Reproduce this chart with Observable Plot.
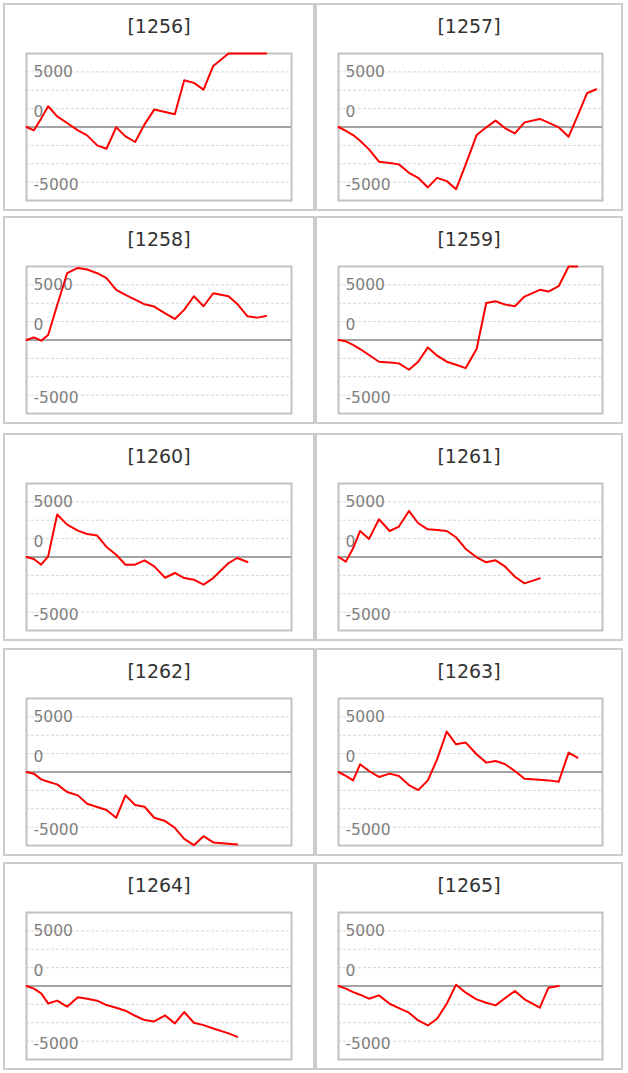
<!DOCTYPE html>
<html>
<head>
<meta charset="utf-8">
<script src="https://cdn.jsdelivr.net/npm/d3@7"></script>
<script src="https://cdn.jsdelivr.net/npm/@observablehq/plot@0.6"></script>
<style>
  html, body { margin: 0; padding: 0; background: #fff; }
  #wrap { position: relative; width: 628px; height: 1073px; }
  .box { position: absolute; box-sizing: border-box; border: 2px solid #cccccc; background: #fff; }
  .ttl { position: absolute; left: 0; right: 0; top: 0; height: 42px; line-height: 42px; text-align: center;
         font-family: "DejaVu Sans", sans-serif; font-size: 19px; color: #333; }
  .box svg { position: absolute; left: 0; top: 40px; }
</style>
</head>
<body>
<div id="wrap"></div>
<script>
// ---- data ----
const codes = ["1256", "1257", "1258", "1259", "1260", "1261", "1262", "1263", "1264", "1265"];
const yTickLabels = [5000, 0, -5000];
// position of each session along the x axis (shared by all panels)
const sessionX = [0, 0.77, 1.53, 2.26, 3.2, 4.24, 5.36, 6.33, 7.38, 8.35, 9.36, 10.33, 11.34, 12.32,
                  13.33, 14.47, 15.48, 16.46, 17.47, 18.48, 19.49, 21.09, 22.0, 23.07, 24.11, 25.02, 26.03, 27.0];

const p1256 = [0, -300, 760, 1880, 970, 360, -300, -760, -1670, -1970, -30, -850, -1360, 240, 1580, 1360, 1150, 4240, 4000, 3390, 5540, 6800, 7300, 7600, 7900, 8200];
const p1257 = [0, -360, -730, -1240, -2030, -3150, -3270, -3390, -4150, -4610, -5480, -4610, -4910, -5640, -3400, -730, -30, 580, -120, -580, 420, 730, 390, -30, -880, 940, 3060, 3420];
const p1258 = [0, 240, -60, 450, 3150, 6060, 6540, 6390, 6060, 5610, 4550, 4090, 3670, 3240, 3030, 2420, 1910, 2730, 3970, 3060, 4240, 3970, 3270, 2150, 2030, 2180];
const p1259 = [0, -120, -450, -820, -1360, -1970, -2030, -2120, -2700, -1970, -670, -1420, -1970, -2240, -2550, -820, 3360, 3510, 3210, 3060, 3940, 4550, 4390, 4880, 6700, 7300];
const p1260 = [0, -180, -700, 60, 3850, 2940, 2390, 2090, 1940, 910, 210, -700, -700, -300, -850, -1880, -1450, -1910, -2060, -2510, -1910, -550, -90, -450];
const p1261 = [0, -420, 790, 2360, 1640, 3420, 2360, 2760, 4180, 3060, 2510, 2450, 2360, 1790, 730, -30, -480, -300, -880, -1790, -2390, -1940];
const p1262 = [0, -150, -670, -880, -1120, -1820, -2120, -2880, -3180, -3450, -4150, -2120, -3000, -3150, -4150, -4450, -5060, -6060, -6640, -5820, -6390, -6510, -6570];
const p1263 = [0, -360, -760, 700, 90, -450, -150, -360, -1180, -1640, -760, 1150, 3670, 2510, 2670, 1610, 850, 1000, 700, 90, -610, -700, -760, -880, 1760, 1300];
const p1264 = [0, -240, -670, -1580, -1330, -1880, -1030, -1150, -1330, -1730, -1970, -2240, -2700, -3090, -3210, -2670, -3390, -2360, -3330, -3550, -3850, -4300, -4610];
const p1265 = [0, -240, -550, -790, -1150, -850, -1610, -2000, -2420, -3120, -3580, -2970, -1610, 120, -610, -1210, -1520, -1760, -1090, -450, -1210, -1970, -150, 0];

const seriesList = [p1256, p1257, p1258, p1259, p1260, p1261, p1262, p1263, p1264, p1265];

// ---- layout ----
const colLeft = [3, 315];
const colWidth = [312, 308];
const rowTop = [3, 216, 433, 648, 862];
const boxH = 208;
const yMax = 20000 / 3;
const gridVals = d3.range(-4, 5).filter(k => k !== 0).map(k => k * yMax / 4);

const labelStyle = {
  frameAnchor: "left", textAnchor: "start", dx: 7,
  fill: "#7f7f7f", fontFamily: "DejaVu Sans", fontSize: 15.5
};

const wrap = document.getElementById("wrap");

codes.forEach((code, k) => {
  const col = k % 2, row = Math.floor(k / 2);
  const box = document.createElement("div");
  box.className = "box";
  box.style.left = colLeft[col] + "px";
  box.style.top = rowTop[row] + "px";
  box.style.width = colWidth[col] + "px";
  box.style.height = boxH + "px";

  const t = document.createElement("div");
  t.className = "ttl";
  t.textContent = "[" + code + "]";
  box.appendChild(t);

  const values = seriesList[k];
  const data = values.map((v, i) => ({x: sessionX[i], v}));
  const svgW = colWidth[col] - 4;
  const chart = Plot.plot({
    width: svgW,
    height: 165,
    marginLeft: 21,
    marginRight: svgW - (col === 0 ? 286 : 285),
    marginTop: 8,
    marginBottom: 10,
    x: {domain: [0, 27.66], axis: null},
    y: {domain: [-yMax, yMax], axis: null, clamp: true},
    style: {background: "transparent", overflow: "visible"},
    marks: [
      Plot.ruleY(gridVals, {stroke: "#d6d6d6", strokeWidth: 1, strokeDasharray: "3,2"}),
      Plot.frame({stroke: "#c2c2c2", strokeWidth: 2}),
      Plot.ruleY([0], {stroke: "#858585", strokeWidth: 1.6}),
      Plot.text(yTickLabels.filter(d => d > 0), {y: d => d, text: d => String(d), ...labelStyle, dy: 0}),
      Plot.text(yTickLabels.filter(d => d === 0), {y: d => d, text: d => String(d), ...labelStyle, dy: -14.7}),
      Plot.text(yTickLabels.filter(d => d < 0), {y: d => d, text: d => String(d), ...labelStyle, dy: 2.8}),
      Plot.line(data, {x: "x", y: "v", stroke: "#ff0000", strokeWidth: 2})
    ]
  });
  box.appendChild(chart);
  wrap.appendChild(box);
});
</script>
</body>
</html>
